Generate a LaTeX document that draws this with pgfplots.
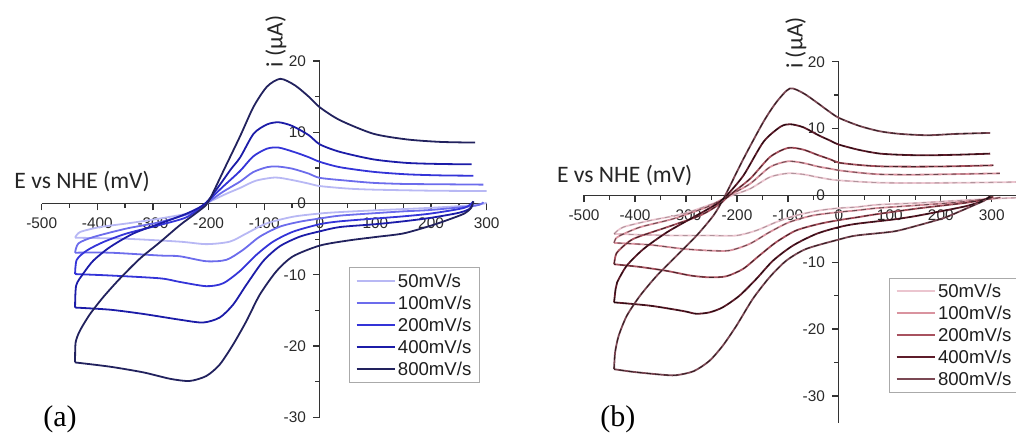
\documentclass[border=0pt]{standalone}
\usepackage{pgfplots}
\usepackage{pgfplotstable}
\pgfplotsset{compat=1.18}
\usepackage{fontspec}
\setmainfont{Liberation Sans}
\newfontfamily\calib{Carlito}
\newfontfamily\serifa{Liberation Serif}
\definecolor{axisgray}{HTML}{333333}
\definecolor{labelgray}{HTML}{2A2A2A}
\definecolor{legendgray}{HTML}{AAAAAA}
\definecolor{aA}{HTML}{B8B8F4}
\definecolor{aB}{HTML}{6C6CEC}
\definecolor{aC}{HTML}{3434D8}
\definecolor{aD}{HTML}{1C1CA8}
\definecolor{aE}{HTML}{22225E}
\definecolor{bA}{HTML}{EBC5CF}
\definecolor{bB}{HTML}{D9939F}
\definecolor{bC}{HTML}{A8525F}
\definecolor{bD}{HTML}{5E1C2A}
\definecolor{bE}{HTML}{7B4854}

% ---------- panel (a) ----------
\pgfplotstableread{
x y
300 0.1
280 -0.2
200 -0.6
100 -0.95
36 -1.2
0 -1.4
-48 -1.85
-96 -2.8
-132 -4.2
-162 -5.35
-204 -5.7
-252 -5.35
-347 -4.95
-440 -4.8
}\aLa
\pgfplotstableread{
x y
-440 -4.8
-431 -4.0
-395 -3.3
-347 -2.8
-287 -2.1
-227 -1.2
-204 0
-170 1.3
-143 2.2
-115 3.2
-80 3.65
-50 3.3
-20 2.8
0 2.45
50 2.1
96 1.95
200 1.8
300 1.75
}\aUa
\pgfplotstableread{
x y
294 0.2
280 -0.3
200 -0.9
150 -1.1
100 -1.35
36 -1.7
0 -2.1
-36 -2.55
-72 -3.25
-108 -4.65
-138 -6.5
-168 -7.9
-204 -8.1
-252 -7.4
-287 -7.3
-377 -6.9
-440 -6.9
}\aLb
\pgfplotstableread{
x y
-440 -6.9
-434 -5.6
-407 -4.7
-347 -3.5
-287 -2.6
-227 -1.2
-204 0
-175 1.6
-143 3.1
-120 4.4
-95 5.1
-77 5.2
-50 4.9
-20 4.2
0 3.6
50 3.2
96 2.9
150 2.75
220 2.7
294 2.65
}\aUb
\pgfplotstableread{
x y
276 0.3
260 -0.6
200 -1.4
150 -1.8
100 -2.1
36 -2.5
0 -2.9
-48 -3.95
-84 -5.35
-114 -7.2
-144 -9.5
-174 -11.2
-204 -11.6
-252 -11.0
-287 -10.5
-377 -10.1
-440 -9.9
}\aLc
\pgfplotstableread{
x y
-440 -9.9
-437 -7.9
-419 -6.6
-389 -5.4
-347 -4.2
-287 -3.0
-239 -1.9
-206 0
-175 2.3
-143 4.6
-120 6.6
-95 7.7
-74 7.85
-45 7.2
-20 6.5
0 5.85
36 5.1
96 4.45
156 4.1
216 3.95
276 3.9
}\aUc
\pgfplotstableread{
x y
276 0.3
270 -0.7
250 -1.3
200 -2.0
150 -2.5
100 -2.9
36 -3.3
0 -3.9
-36 -4.65
-72 -6.0
-102 -8.1
-132 -11.4
-156 -14.2
-180 -16.0
-210 -16.7
-252 -16.3
-317 -15.5
-377 -14.9
-440 -14.6
}\aLd
\pgfplotstableread{
x y
-440 -14.6
-438 -11.5
-425 -9.8
-407 -8.0
-377 -6.1
-335 -4.2
-287 -2.8
-239 -1.4
-206 0
-180 2.6
-160 4.8
-143 6.5
-119 9.8
-95 11.1
-74 11.4
-50 10.9
-20 9.6
0 8.3
36 7.25
96 6.2
156 5.7
216 5.55
273 5.5
}\aUd
\pgfplotstableread{
x y
276 0.3
272 -0.6
260 -1.4
230 -2.3
200 -3.1
150 -4.2
100 -4.7
50 -5.2
0 -5.9
-48 -7.4
-78 -9.5
-108 -12.8
-132 -16.5
-156 -19.8
-180 -22.6
-204 -24.2
-234 -24.9
-269 -24.6
-317 -23.7
-377 -22.9
-440 -22.3
}\aLe
\pgfplotstableread{
x y
-440 -22.3
-439 -19.5
-431 -17.8
-413 -15.5
-389 -13.1
-359 -10.5
-323 -7.7
-287 -5.4
-251 -3.0
-215 -0.9
-200 0.3
-172 4.8
-143 9.5
-119 13.6
-95 16.4
-71 17.5
-45 16.6
-20 15.0
0 13.5
36 11.7
96 9.8
156 9.0
216 8.65
279 8.55
}\aUe

% ---------- panel (b) ----------
\pgfplotstableread{
x y
348 -0.35
300 -0.5
250 -0.7
205 -0.9
150 -1.15
75 -1.4
34 -1.75
0 -1.9
-38 -2.25
-84 -3.0
-123 -4.0
-162 -5.25
-201 -6.0
-254 -6.0
-318 -6.0
-383 -5.9
-441 -5.75
}\bLa
\pgfplotstableread{
x y
-441 -5.75
-423 -4.75
-370 -3.75
-305 -2.75
-239 -1.0
-213 -0.1
-174 1.0
-135 2.75
-100 3.3
-70 3.15
-40 2.7
-17 2.4
0 2.25
40 2.05
81 1.9
150 1.85
250 1.9
348 2.0
}\bUa
\pgfplotstableread{
x y
317 -0.3
290 -0.6
250 -0.9
205 -1.2
150 -1.5
75 -1.9
34 -2.25
0 -2.5
-51 -3.0
-97 -4.0
-136 -5.5
-175 -7.25
-215 -8.25
-254 -8.25
-305 -8.0
-370 -7.4
-441 -7.1
}\bLb
\pgfplotstableread{
x y
-441 -7.1
-438 -6.5
-429 -6.0
-390 -4.75
-325 -3.5
-259 -1.75
-233 -0.75
-215 0
-174 1.75
-135 4.25
-100 5.1
-70 4.85
-40 4.3
-17 4.0
0 3.75
40 3.4
81 3.15
150 3.1
240 3.2
316 3.3
}\bUb
\pgfplotstableread{
x y
303 -0.2
280 -0.7
250 -1.1
205 -1.5
150 -2.0
75 -2.8
34 -3.3
0 -3.7
-38 -4.25
-84 -5.25
-123 -7.0
-156 -9.0
-188 -11.0
-221 -12.1
-254 -12.25
-290 -12.0
-337 -11.3
-390 -10.7
-441 -10.3
}\bLc
\pgfplotstableread{
x y
-441 -10.3
-438 -9.0
-432 -8.25
-403 -6.5
-337 -4.75
-272 -3.0
-233 -1.25
-215 0
-174 2.5
-135 5.75
-100 7.1
-70 6.85
-40 6.0
-17 5.4
0 4.9
40 4.55
81 4.35
150 4.3
220 4.35
303 4.5
}\bUc
\pgfplotstableread{
x y
297 -0.15
280 -0.9
250 -1.6
205 -2.3
150 -3.1
107 -3.6
34 -4.25
0 -4.75
-44 -5.75
-90 -7.5
-129 -9.75
-162 -12.5
-195 -15.0
-228 -16.75
-254 -17.5
-280 -17.7
-305 -17.3
-370 -16.5
-441 -16.0
}\bLd
\pgfplotstableread{
x y
-441 -16.0
-438 -14.0
-435 -13.0
-416 -10.5
-383 -8.0
-337 -5.5
-285 -3.25
-239 -1.25
-220 0
-187 3.0
-148 8.0
-115 10.25
-96 10.65
-70 10.2
-40 9.0
-17 8.2
0 7.6
40 6.8
81 6.25
130 6.05
176 6.0
240 6.1
297 6.25
}\bUd
\pgfplotstableread{
x y
297 -0.1
285 -0.8
270 -1.3
240 -2.3
205 -3.4
150 -4.6
107 -5.4
34 -6.0
0 -6.6
-64 -8.0
-103 -9.75
-136 -12.25
-169 -15.5
-201 -19.5
-228 -22.5
-254 -24.75
-285 -26.3
-320 -26.9
-350 -26.8
-403 -26.4
-441 -26.0
}\bLe
\pgfplotstableread{
x y
-441 -26.0
-439 -23.5
-432 -21.0
-416 -18.0
-390 -15.0
-357 -12.0
-318 -9.0
-279 -6.0
-246 -3.0
-225 -0.3
-187 5.5
-148 11.0
-122 14.0
-96 16.0
-70 15.3
-45 14.0
-20 12.6
0 11.6
40 10.4
80 9.6
120 9.2
175 9.0
230 9.2
297 9.35
}\bUe

\pgfplotsset{
  cvaxis/.style={
    scale only axis,
    axis lines=middle,
    axis line style={-, color=axisgray, line width=0.65pt},
    enlargelimits=false,
    clip=true,
    xtick={-500,-400,...,300},
    minor xtick={-450,-350,...,250},
    ytick={-30,-20,...,20},
    minor ytick={-25,-15,...,15},
    tick align=outside,
    major tick length=3.4pt,
    minor tick length=2.2pt,
    tick style={color=axisgray, line width=0.65pt},
    hide obscured x ticks=false,
    hide obscured y ticks=false,
    ticklabel style={font=\fontsize{7.7}{8.5}\selectfont, color=labelgray},
    /pgf/number format/assume math mode=true,
    legend cell align=left,
    legend style={draw=legendgray, line width=0.5pt, fill=white,
      font=\fontsize{9.3}{10.5}\selectfont, text=black!88, anchor=north west,
      row sep=1.6pt, inner xsep=3pt, inner ysep=2pt,
      nodes={inner sep=1.2pt, text height=6.7pt, text depth=0.3pt}},
    legend image code/.code={\draw[##1, line width=1pt] (0pt,0pt) -- (19pt,0pt);},
    every axis plot/.append style={line width=0.9pt, smooth, tension=0.45},
  },
}

\begin{document}
\begin{tikzpicture}
\clip (0,0) rectangle (508pt,217pt);

% ----- panel (a)
\begin{axis}[cvaxis,
  at={(20.85pt,8.35pt)}, anchor=south west,
  width=222.5pt, height=178.15pt,
  xmin=-500, xmax=300, ymin=-30, ymax=20,
  legend style={at={(0.6906,0.4218)}},
]
\addplot[aA] table {\aLa}; \addlegendentry{50mV/s}
\addplot[aA, forget plot] table {\aUa};
\addplot[aB] table {\aLb}; \addlegendentry{100mV/s}
\addplot[aB, forget plot] table {\aUb};
\addplot[aC] table {\aLc}; \addlegendentry{200mV/s}
\addplot[aC, forget plot] table {\aUc};
\addplot[aD] table {\aLd}; \addlegendentry{400mV/s}
\addplot[aD, forget plot] table {\aUd};
\addplot[aE] table {\aLe}; \addlegendentry{800mV/s}
\addplot[aE, forget plot] table {\aUe};
\end{axis}

% ----- panel (b)
\begin{axis}[cvaxis,
  at={(292pt,5.65pt)}, anchor=south west,
  width=216.1pt, height=180.5pt,
  xmin=-500, xmax=348, ymin=-34, ymax=20,
  legend style={at={(0.706,0.402)}},
]
\addplot[bA] table {\bLa}; \addlegendentry{50mV/s}
\addplot[bA, forget plot] table {\bUa};
\addplot[bB] table {\bLb}; \addlegendentry{100mV/s}
\addplot[bB, forget plot] table {\bUb};
\addplot[bC] table {\bLc}; \addlegendentry{200mV/s}
\addplot[bC, forget plot] table {\bUc};
\addplot[bD] table {\bLd}; \addlegendentry{400mV/s}
\addplot[bD, forget plot] table {\bUd};
\addplot[bE] table {\bLe}; \addlegendentry{800mV/s}
\addplot[bE, forget plot] table {\bUe};
% dashed overlay (fits)
\addplot[black, opacity=0.25, line width=0.45pt, dash pattern=on 2.5pt off 2pt, forget plot] table {\bLa};
\addplot[black, opacity=0.25, line width=0.45pt, dash pattern=on 2.5pt off 2pt, forget plot] table {\bUa};
\addplot[black, opacity=0.5, line width=0.45pt, dash pattern=on 2.5pt off 2pt, forget plot] table {\bLb};
\addplot[black, opacity=0.5, line width=0.45pt, dash pattern=on 2.5pt off 2pt, forget plot] table {\bUb};
\addplot[black, opacity=0.6, line width=0.45pt, dash pattern=on 2.5pt off 2pt, forget plot] table {\bLc};
\addplot[black, opacity=0.6, line width=0.45pt, dash pattern=on 2.5pt off 2pt, forget plot] table {\bUc};
\addplot[black, opacity=0.6, line width=0.45pt, dash pattern=on 2.5pt off 2pt, forget plot] table {\bLd};
\addplot[black, opacity=0.6, line width=0.45pt, dash pattern=on 2.5pt off 2pt, forget plot] table {\bUd};
\addplot[black, opacity=0.6, line width=0.45pt, dash pattern=on 2.5pt off 2pt, forget plot] table {\bLe};
\addplot[black, opacity=0.6, line width=0.45pt, dash pattern=on 2.5pt off 2pt, forget plot] table {\bUe};
\end{axis}

% ----- labels
\node[anchor=base west, inner sep=0pt, font=\calib\fontsize{11.8}{13}\selectfont, text=black!85] at (7pt,122.9pt) {E vs NHE (mV)};
\node[anchor=base west, inner sep=0pt, font=\calib\fontsize{11.8}{13}\selectfont, text=black!85] at (278.3pt,125.5pt) {E vs NHE (mV)};
\node[rotate=90, inner sep=0pt, font=\calib\fontsize{11.8}{13}\selectfont, text=black!85] at (138pt,196.2pt) {i (µA)};
\node[rotate=90, inner sep=0pt, font=\calib\fontsize{11.8}{13}\selectfont, text=black!85] at (398pt,195.5pt) {i (µA)};
\node[anchor=base west, inner sep=0pt, font=\serifa\fontsize{15}{17}\selectfont] at (21.5pt,3.6pt) {(a)};
\node[anchor=base west, inner sep=0pt, font=\serifa\fontsize{15}{17}\selectfont] at (300pt,3.6pt) {(b)};
\end{tikzpicture}
\end{document}
